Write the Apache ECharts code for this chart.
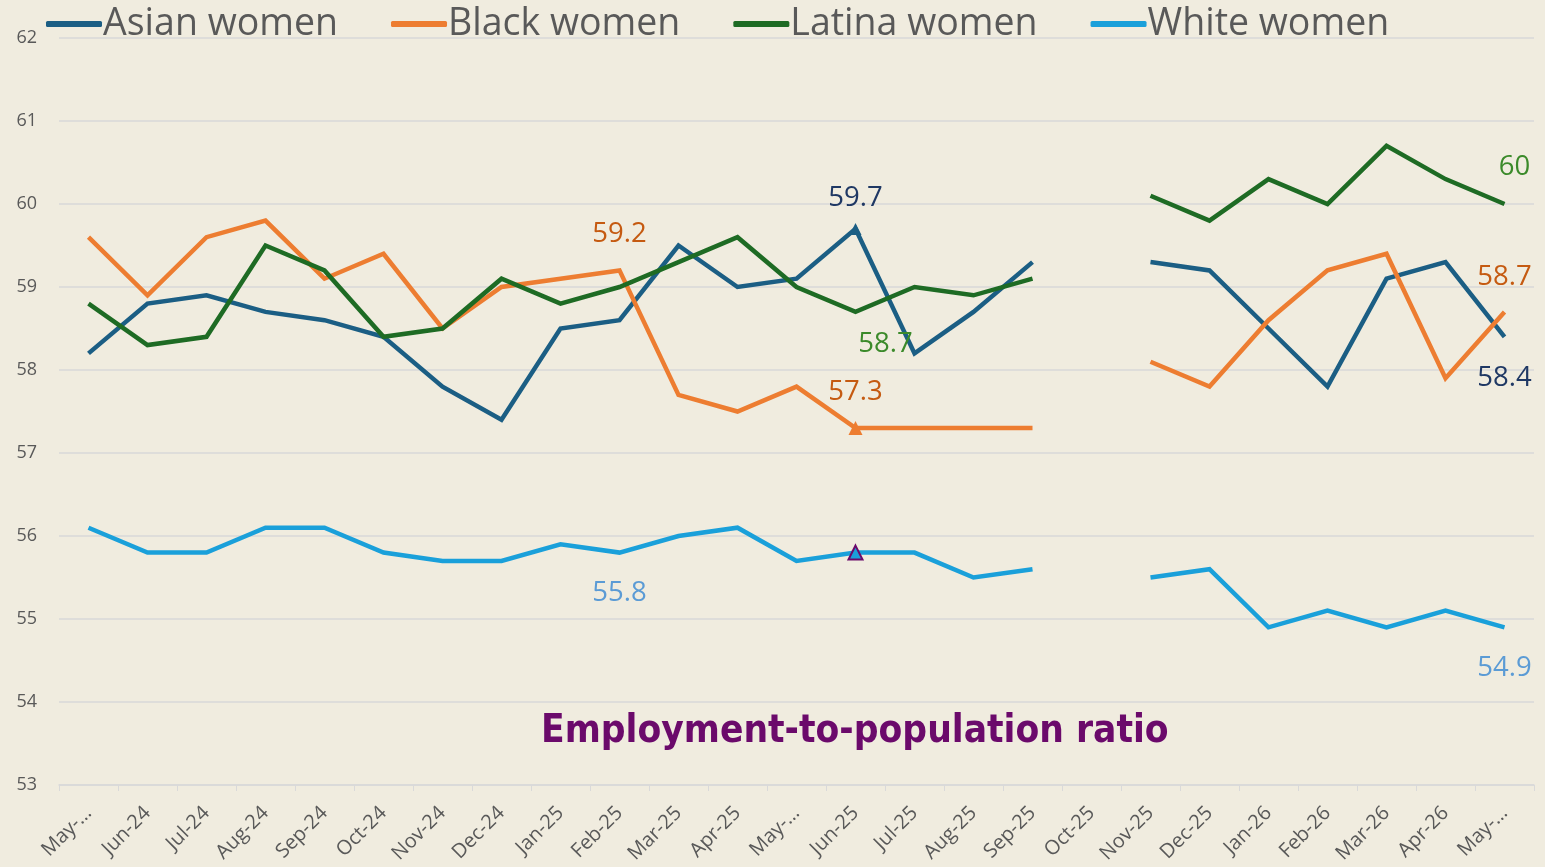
<!DOCTYPE html>
<html><head><meta charset="utf-8">
<script src="https://cdn.jsdelivr.net/npm/echarts@6/dist/echarts.min.js"></script>
<style>html,body{margin:0;padding:0;background:#F0ECDF;}#c{width:1545px;height:867px;}</style>
</head><body><div id="c"></div>
<script>
const categories = ['May-24','Jun-24','Jul-24','Aug-24','Sep-24','Oct-24','Nov-24','Dec-24','Jan-25','Feb-25','Mar-25','Apr-25','May-25','Jun-25','Jul-25','Aug-25','Sep-25','Oct-25','Nov-25','Dec-25','Jan-26','Feb-26','Mar-26','Apr-26','May-26'];
const asian  = [58.2,58.8,58.9,58.7,58.6,58.4,57.8,57.4,58.5,58.6,59.5,59.0,59.1,59.7,58.2,58.7,59.3,'-',59.3,59.2,58.5,57.8,59.1,59.3,58.4];
const black  = [59.6,58.9,59.6,59.8,59.1,59.4,58.5,59.0,59.1,59.2,57.7,57.5,57.8,57.3,57.3,57.3,57.3,'-',58.1,57.8,58.6,59.2,59.4,57.9,58.7];
const latina = [58.8,58.3,58.4,59.5,59.2,58.4,58.5,59.1,58.8,59.0,59.3,59.6,59.0,58.7,59.0,58.9,59.1,'-',60.1,59.8,60.3,60.0,60.7,60.3,60.0];
const white  = [56.1,55.8,55.8,56.1,56.1,55.8,55.7,55.7,55.9,55.8,56.0,56.1,55.7,55.8,55.8,55.5,55.6,'-',55.5,55.6,54.9,55.1,54.9,55.1,54.9];
const yTicks = {min:53, max:62, interval:1};
const titleText = 'Employment-to-population ratio';

const FONT = '"Open Sans", "Liberation Sans", sans-serif';
function lab(color, position, offset, dist) {
  return {show:true, position:position, offset:offset||[0,0], distance:dist||8, color:color, fontSize:27.5, fontFamily:FONT, formatter:(p)=>String(p.value)};
}
function build(values, labelsSpec, markerSpec) {
  return values.map((v,i)=>{
    const item = {value:v};
    if (labelsSpec[i]) item.label = labelsSpec[i];
    if (markerSpec && markerSpec[i]) { Object.assign(item, markerSpec[i]); }
    return item;
  });
}
const iJun25 = categories.indexOf('Jun-25');
const iFeb25 = categories.indexOf('Feb-25');
const iLast = categories.length-1;

const asianLabels = {}; asianLabels[iJun25] = lab('#1F3864','top',[0,-3],8); asianLabels[iLast]=lab('#1F3864','bottom',[0,19],8);
const asianMark = {}; asianMark[iJun25] = {symbol:'triangle', symbolSize:12, itemStyle:{color:'#1B5E84'}};
const blackLabels = {}; blackLabels[iFeb25]=lab('#C55A11','top',[0,-14],8); blackLabels[iJun25]=lab('#C55A11','top',[0,-7],8); blackLabels[iLast]=lab('#C55A11','top',[0,-13],8);
const blackMark = {}; blackMark[iJun25] = {symbol:'triangle', symbolSize:14, itemStyle:{color:'#ED7D31'}};
const latinaLabels = {}; latinaLabels[iJun25]=lab('#3B8A2A','bottom',[30,12],6); latinaLabels[iLast]=lab('#3B8A2A','top',[10,-15],8);
const whiteLabels = {}; whiteLabels[iFeb25]=lab('#5B9BD5','bottom',[0,19],8); whiteLabels[iLast]=lab('#5B9BD5','bottom',[0,19],8);
const whiteMark = {}; whiteMark[iJun25] = {symbol:'triangle', symbolSize:14, itemStyle:{color:'#1AA0DA', borderColor:'#6B0A6B', borderWidth:2}};

function series(name, color, data) {
  return {name:name, type:'line', data:data, connectNulls:false, symbol:'circle', symbolSize:0, showSymbol:true,
    lineStyle:{width:4.5, color:color, join:'miter'}, itemStyle:{color:color}, label:{show:false}, z:2, animation:false,
    emphasis:{disabled:true}};
}

const chart = echarts.init(document.getElementById('c'), null, {renderer:'canvas'});
chart.setOption({
  backgroundColor:'#F0ECDF',
  animation:false,
  grid:{left:59, right:11, top:38, bottom:82, containLabel:false},
  legend:{left:41, top:0, itemWidth:56, itemHeight:6, itemGap:53, icon:'roundRect',
    textStyle:{fontSize:37.5, color:'#595959', fontFamily:FONT, padding:[0,0,0,-4]},
    data:['Asian women','Black women','Latina women','White women']},
  title:{text:titleText, left:536, top:707, textStyle:{fontSize:38.5, fontWeight:'bold', color:'#6B0A6B', fontFamily:'"DejaVu Sans Condensed", "Liberation Sans Narrow", sans-serif'}},
  xAxis:{type:'category', data:categories, boundaryGap:true,
    axisLine:{lineStyle:{color:'#D9D9D9', width:1.5}},
    axisTick:{show:true, length:6, lineStyle:{color:'#D9D9D9'}},
    axisLabel:{rotate:45, interval:0, fontSize:20, color:'#595959', fontFamily:FONT, margin:25,
      formatter:(v)=> v.startsWith('May') ? 'May-…' : v}},
  yAxis:{type:'value', min:yTicks.min, max:yTicks.max, interval:yTicks.interval,
    axisLine:{show:false}, axisTick:{show:false},
    splitLine:{lineStyle:{color:'#D9D9D9', width:1.5}},
    axisLabel:{fontSize:18, color:'#595959', fontFamily:FONT, margin:22}},
  series:[
    series('Asian women','#1B5E84', build(asian, asianLabels, asianMark)),
    series('Black women','#ED7D31', build(black, blackLabels, blackMark)),
    series('Latina women','#1E6B24', build(latina, latinaLabels, null)),
    series('White women','#1AA0DA', build(white, whiteLabels, whiteMark))
  ]
});
</script></body></html>
